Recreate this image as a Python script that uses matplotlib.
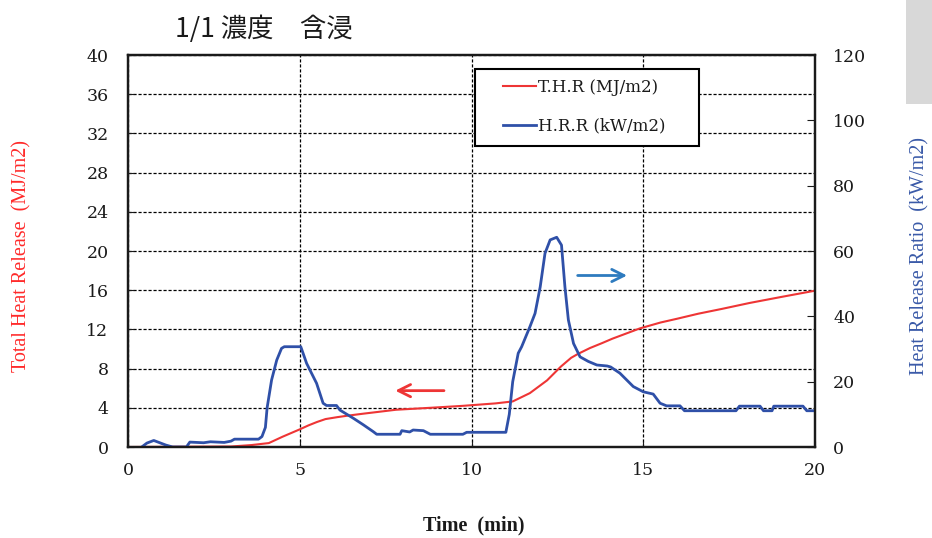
import matplotlib
matplotlib.use("Agg")
import matplotlib.pyplot as plt
from matplotlib.patches import Rectangle

# ---- data -----------------------------------------------------------------
t_thr = [0, 3.0, 3.6, 4.1, 4.5, 5.0, 5.25, 5.5, 5.75, 6.1, 6.4, 6.85, 7.8,
         8.8, 9.75, 10.7, 11.2, 11.7, 12.2, 12.4, 12.6, 12.9, 13.1, 13.45,
         13.8, 14.1, 14.9, 15.5, 16.0, 16.6, 17.3, 18.1, 19.0, 20]
thr = [0, 0.05, 0.2, 0.4, 1.05, 1.8, 2.2, 2.55, 2.85, 3.05, 3.2, 3.4, 3.8,
       4.0, 4.2, 4.45, 4.65, 5.5, 6.8, 7.5, 8.2, 9.1, 9.5, 10.1,
       10.6, 11.05, 12.1, 12.7, 13.1, 13.6, 14.1, 14.7, 15.3, 15.95]

t_hrr = [0.4, 0.55, 0.75, 0.95, 1.1, 1.3, 1.7, 1.8, 2.2, 2.4, 2.8, 3.0, 3.1,
         3.8, 3.9, 4.0, 4.05, 4.18, 4.33, 4.47, 4.55, 5.03, 5.2, 5.49, 5.68,
         5.78, 6.07, 6.17, 6.56, 6.85, 7.14, 7.24, 7.92, 7.97, 8.2, 8.3, 8.6,
         8.8, 9.75, 9.86, 11.0, 11.1, 11.2, 11.36, 11.46, 11.7, 11.85, 12.0,
         12.14, 12.29, 12.48, 12.62, 12.72, 12.82, 12.97, 13.16, 13.4, 13.65,
         13.95, 14.05, 14.32, 14.71, 15.0, 15.29, 15.49, 15.68, 16.07, 16.2,
         17.7, 17.8, 18.4, 18.5, 18.75, 18.8, 19.65, 19.76, 20]
hrr = [0, 1.2, 2.0, 1.2, 0.6, 0, 0, 1.5, 1.3, 1.6, 1.4, 1.8, 2.4,
       2.4, 3.2, 6, 12, 20.5, 26.6, 30.2, 30.7, 30.7, 25.6, 19.5, 13.4,
       12.7, 12.7, 11.3, 8.8, 6.8, 4.7, 3.9, 3.9, 5.0, 4.6, 5.2, 5.0,
       3.9, 3.9, 4.5, 4.5, 10, 20, 28.7, 30.7, 36.8, 40.9, 49,
       59.3, 63.4, 64.2, 61.8, 49, 38.9, 31.7, 27.6, 26.2, 25.1,
       24.8, 24.5, 22.6, 18.5, 16.9, 16.2, 13.4, 12.6, 12.6, 11.1,
       11.1, 12.5, 12.5, 11.1, 11.1, 12.5, 12.5, 11.1, 11.1]

x_ticks = [0, 5, 10, 15, 20]
thr_ticks = list(range(0, 41, 4))
hrr_ticks = list(range(0, 121, 20))

RED, BLUE, ARROW_BLUE, INK = "#ee3535", "#2f50a8", "#2e7bbf", "#1a1a1a"

fig = plt.figure(figsize=(9.32, 5.38), dpi=100)
ax = fig.add_axes([128/932, 1 - 447/538, 687/932, 392/538])
ax2 = ax.twinx()

ax.plot(t_thr, thr, color=RED, lw=1.5, label="T.H.R (MJ/m2)")
ax2.plot(t_hrr, hrr, color=BLUE, lw=2.0, label="H.R.R (kW/m2)")

ax.set_xlim(0, 20); ax.set_ylim(0, 40); ax2.set_ylim(0, 120)
ax.set_xticks(x_ticks); ax.set_yticks(thr_ticks); ax2.set_yticks(hrr_ticks)
ax.grid(True, color="black", lw=0.9, linestyle=(0, (2.5, 1.5)))

ax.tick_params(axis="x", direction="in", length=4, pad=11, labelsize=12.5, colors=INK)
ax.tick_params(axis="y", direction="in", length=4, pad=14, labelsize=12.5, colors=INK)
ax2.tick_params(axis="y", direction="in", length=6, pad=13, labelsize=12.5, colors=INK)
for lab in ax.get_xticklabels() + ax.get_yticklabels() + ax2.get_yticklabels():
    lab.set_fontfamily("DejaVu Serif")
for a in (ax, ax2):
    for s in a.spines.values():
        s.set_linewidth(1.6); s.set_color(INK)

# legend frame + entries
ax2.add_patch(Rectangle((0.505, 0.768), 0.326, 0.196, transform=ax2.transAxes,
                        facecolor="white", edgecolor="black", lw=1.5, zorder=5))
h1, l1 = ax.get_legend_handles_labels()
h2, l2 = ax2.get_legend_handles_labels()
leg = ax2.legend(h1 + h2, l1 + l2, loc="upper left", bbox_to_anchor=(0.546, 0.939),
                 frameon=False, borderpad=0, borderaxespad=0, handlelength=1.95,
                 handletextpad=0.15, labelspacing=1.3,
                 prop={"family": "DejaVu Serif", "size": 12})
leg.set_zorder(6)
for t in leg.get_texts():
    t.set_color(INK)

# direction arrows
ax.annotate("", xy=(7.7, 5.75), xytext=(9.28, 5.75),
            arrowprops=dict(arrowstyle="->", color=RED, lw=2, mutation_scale=22))
ax.annotate("", xy=(14.61, 17.5), xytext=(13.01, 17.5),
            arrowprops=dict(arrowstyle="->", color=ARROW_BLUE, lw=2, mutation_scale=22))

# labels
fig.text(22/932, 1 - 256/538, "Total Heat Release  (MJ/m2)", rotation=90,
         ha="center", va="center", color="#ff2a2a", family="Liberation Serif", size=14.5)
fig.text(920/932, 1 - 256/538, "Heat Release Ratio  (kW/m2)", rotation=90,
         ha="center", va="center", color="#3a5aa8", family="Liberation Serif", size=14.5)
fig.text(474/932, 1 - 525/538, "Time  (min)", ha="center", va="center",
         color=INK, family="Liberation Serif", weight="bold", size=14.5)
fig.text(175/932, 1 - 29/538, "1/1 濃度\u3000含浸", ha="left", va="center",
         color=INK, family=["Noto Sans CJK JP", "DejaVu Sans"], size=19)

fig.patches.append(Rectangle((906/932, 1 - 104/538), 26/932, 104/538,
                             transform=fig.transFigure, facecolor="#d8d8d8",
                             edgecolor="none"))

fig.savefig("out.png", dpi=100)
